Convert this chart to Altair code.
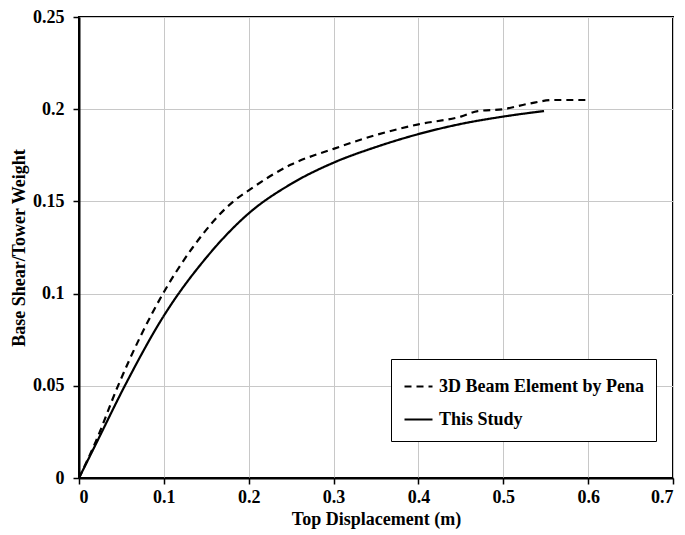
import altair as alt
import pandas as pd

pena_x = [0, 0.02, 0.046, 0.099, 0.134, 0.182, 0.2, 0.25, 0.3, 0.35, 0.4, 0.45, 0.47, 0.5, 0.53, 0.56, 0.6]
pena_y = [0, 0.02, 0.05, 0.1, 0.125, 0.15, 0.156, 0.17, 0.1785, 0.186, 0.1918, 0.196, 0.199, 0.2, 0.203, 0.205, 0.205]

study_x = [0, 0.02, 0.054, 0.1, 0.15, 0.2, 0.25, 0.3, 0.35, 0.4, 0.45, 0.5, 0.548]
study_y = [0, 0.0185, 0.05, 0.088, 0.1195, 0.1435, 0.1595, 0.171, 0.1795, 0.1865, 0.192, 0.196, 0.199]

series_names = ["3D Beam Element by Pena", "This Study"]

rows = []
for i, (x, y) in enumerate(zip(pena_x, pena_y)):
    rows.append({"disp": x, "shear": y, "series": series_names[0], "order": i})
for i, (x, y) in enumerate(zip(study_x, study_y)):
    rows.append({"disp": x, "shear": y, "series": series_names[1], "order": i})
df = pd.DataFrame(rows)

FONT = "Times New Roman, Liberation Serif, DejaVu Serif, serif"

chart = alt.Chart(df).mark_line(color="black", strokeWidth=2.2, interpolate="monotone").encode(
    x=alt.X("disp:Q", title="Top Displacement (m)",
            scale=alt.Scale(domain=[0, 0.7], nice=False),
            axis=alt.Axis(values=[0, 0.1, 0.2, 0.3, 0.4, 0.5, 0.6, 0.7], format="~f")),
    y=alt.Y("shear:Q", title="Base Shear/Tower Weight",
            scale=alt.Scale(domain=[0, 0.25], nice=False),
            axis=alt.Axis(values=[0, 0.05, 0.1, 0.15, 0.2, 0.25], format=".2~f")),
    strokeDash=alt.StrokeDash("series:N",
        scale=alt.Scale(domain=series_names, range=[[7, 5], [1, 0]]),
        legend=alt.Legend(title=None, orient="none", legendX=312, legendY=342,
                          symbolType="stroke", symbolSize=784, symbolStrokeWidth=2.2,
                          symbolStrokeColor="black",
                          labelFont=FONT, labelFontSize=18, labelFontWeight="bold",
                          labelColor="black", labelOffset=5, labelLimit=400,
                          strokeColor="black", fillColor="white", padding=12,
                          rowPadding=8)),
    order="order:Q",
).properties(
    width=594, height=461,
    padding={"left": 71, "top": 9, "right": 4, "bottom": 56},
    autosize=alt.AutoSizeParams(type="none"),
).configure_view(
    stroke="black", strokeWidth=2,
).configure_axis(
    domainColor="black", domainWidth=2,
    tickColor="black", tickSize=6, tickWidth=1.5,
    gridColor="#c8c8c8", gridWidth=1,
    labelFont=FONT, labelFontSize=18, labelFontWeight="bold", labelColor="black",
    titleFont=FONT, titleFontSize=18, titleFontWeight="bold", titleColor="black",
).configure_axisX(
    labelPadding=4, titlePadding=4,
).configure_axisY(
    labelPadding=9, titlePadding=4,
)

chart.save("out.html", embed_options={"renderer": "svg", "actions": False})
